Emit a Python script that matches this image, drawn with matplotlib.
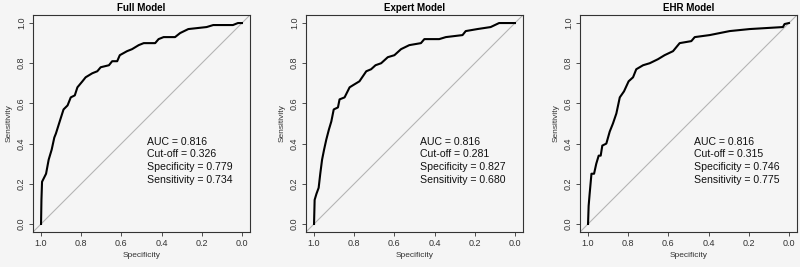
import numpy as np
import matplotlib.pyplot as plt

titles = ["Full Model", "Expert Model", "EHR Model"]

full_spec = [1.0, 0.998, 0.995, 0.975, 0.962, 0.947, 0.934, 0.926, 0.904, 0.888, 0.868, 0.852,
             0.832, 0.819, 0.794, 0.778, 0.745, 0.720, 0.703, 0.662, 0.646, 0.621, 0.608, 0.572,
             0.547, 0.514, 0.489, 0.432, 0.415, 0.390, 0.333, 0.308, 0.267, 0.176, 0.143, 0.045,
             0.020, 0.0]
full_sens = [0.0, 0.12, 0.21, 0.25, 0.32, 0.37, 0.43, 0.45, 0.52, 0.57, 0.59, 0.63,
             0.64, 0.68, 0.71, 0.73, 0.75, 0.76, 0.78, 0.79, 0.81, 0.81, 0.84, 0.86,
             0.87, 0.89, 0.90, 0.90, 0.92, 0.93, 0.93, 0.95, 0.97, 0.98, 0.99, 0.99,
             1.0, 1.0]

expert_spec = [1.0, 0.997, 0.988, 0.977, 0.969, 0.960, 0.950, 0.939, 0.926, 0.914, 0.902, 0.881,
               0.873, 0.848, 0.823, 0.807, 0.774, 0.740, 0.716, 0.694, 0.666, 0.633, 0.600, 0.567,
               0.526, 0.468, 0.451, 0.377, 0.344, 0.261, 0.245, 0.187, 0.121, 0.079, 0.0]
expert_sens = [0.0, 0.12, 0.15, 0.18, 0.25, 0.32, 0.37, 0.42, 0.47, 0.51, 0.57, 0.58,
               0.62, 0.63, 0.68, 0.69, 0.71, 0.76, 0.77, 0.79, 0.80, 0.83, 0.84, 0.87,
               0.89, 0.90, 0.92, 0.92, 0.93, 0.94, 0.96, 0.97, 0.98, 1.0, 1.0]

ehr_spec = [1.0, 0.997, 0.992, 0.983, 0.970, 0.959, 0.947, 0.937, 0.929, 0.909, 0.892, 0.876,
            0.859, 0.842, 0.821, 0.798, 0.776, 0.760, 0.726, 0.693, 0.652, 0.619, 0.577, 0.544,
            0.486, 0.469, 0.395, 0.295, 0.196, 0.030, 0.022, 0.0]
ehr_sens = [0.0, 0.09, 0.15, 0.25, 0.25, 0.30, 0.34, 0.34, 0.39, 0.40, 0.46, 0.50,
            0.55, 0.63, 0.66, 0.71, 0.73, 0.77, 0.79, 0.80, 0.82, 0.84, 0.86, 0.90,
            0.91, 0.93, 0.94, 0.96, 0.97, 0.98, 0.995, 1.0]

auc = [0.816, 0.816, 0.816]
cutoff = [0.326, 0.281, 0.315]
spec_at_cut = [0.779, 0.827, 0.746]
sens_at_cut = [0.734, 0.680, 0.775]

curves = [(full_spec, full_sens), (expert_spec, expert_sens), (ehr_spec, ehr_sens)]

bg = "#f5f5f5"
plt.rcParams['font.family'] = ['Liberation Sans', 'DejaVu Sans']
fig = plt.figure(figsize=(8, 2.67), dpi=100, facecolor=bg)

lefts = [33 / 800, 306 / 800, 580 / 800]
ticks = [1.0, 0.8, 0.6, 0.4, 0.2, 0.0]

for i, left in enumerate(lefts):
    ax = fig.add_axes([left, 35 / 267, 217 / 800, 217 / 267])
    ax.set_facecolor(bg)
    spec, sens = curves[i]
    ax.plot([1.04, -0.04], [-0.04, 1.04], color="#b5b5b5", lw=0.8)
    ax.plot(spec, sens, color="black", lw=1.5)
    ax.set_xlim(1.04, -0.04)
    ax.set_ylim(-0.04, 1.04)
    ax.set_xticks(ticks)
    ax.set_xticklabels([f"{t:.1f}" for t in ticks])
    ax.set_yticks(ticks)
    ax.set_yticklabels([f"{t:.1f}" for t in ticks], rotation=90, va="center")
    ax.tick_params(labelsize=6.5, length=3, width=0.6, colors="#333333", pad=2)
    for s in ax.spines.values():
        s.set_linewidth(0.8)
        s.set_color("#333333")
    ax.set_xlabel("Specificity", fontsize=6, color="#333333", labelpad=3)
    ax.set_ylabel("Sensitivity", fontsize=6, color="#333333", labelpad=3)
    ax.set_title(titles[i], fontsize=7, fontweight="bold", pad=3)
    lines = [f"AUC = {auc[i]:.3f}", f"Cut-off = {cutoff[i]:.3f}",
             f"Specificity = {spec_at_cut[i]:.3f}", f"Sensitivity = {sens_at_cut[i]:.3f}"]
    for j, txt in enumerate(lines):
        ax.text(0.475, 0.41 - 0.063 * j, txt, fontsize=7.6, ha="left", va="center",
                color="#111111")

fig.savefig("out.png", dpi=100, facecolor=bg)
